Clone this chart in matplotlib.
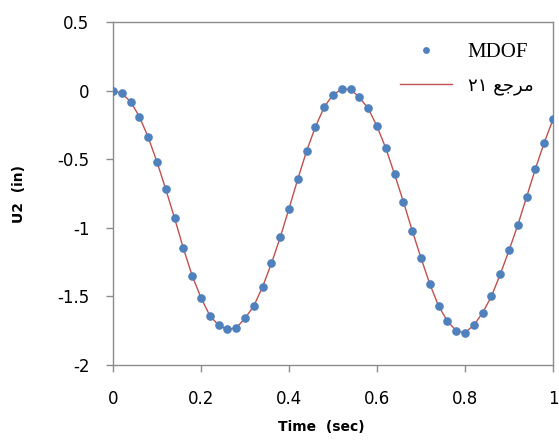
import matplotlib
matplotlib.use("Agg")
import matplotlib.pyplot as plt

# Data
time_s = [0.00, 0.02, 0.04, 0.06, 0.08, 0.10, 0.12, 0.14, 0.16, 0.18,
          0.20, 0.22, 0.24, 0.26, 0.28, 0.30, 0.32, 0.34, 0.36, 0.38,
          0.40, 0.42, 0.44, 0.46, 0.48, 0.50, 0.52, 0.54, 0.56, 0.58,
          0.60, 0.62, 0.64, 0.66, 0.68, 0.70, 0.72, 0.74, 0.76, 0.78,
          0.80, 0.82, 0.84, 0.86, 0.88, 0.90, 0.92, 0.94, 0.96, 0.98, 1.00]
mdof_u2 = [0.00, -0.02, -0.08, -0.19, -0.34, -0.52, -0.72, -0.93, -1.15, -1.35,
           -1.51, -1.64, -1.71, -1.74, -1.73, -1.66, -1.57, -1.43, -1.26, -1.07,
           -0.86, -0.645, -0.44, -0.265, -0.12, -0.03, 0.01, 0.01, -0.05, -0.13,
           -0.26, -0.42, -0.61, -0.81, -1.02, -1.22, -1.41, -1.57, -1.68, -1.75,
           -1.765, -1.71, -1.62, -1.50, -1.34, -1.165, -0.98, -0.775, -0.57, -0.38, -0.21]
ref_u2 = list(mdof_u2)

x_ticks = [0, 0.2, 0.4, 0.6, 0.8, 1]
x_tick_labels = ["0", "0.2", "0.4", "0.6", "0.8", "1"]
y_ticks = [-2, -1.5, -1, -0.5, 0, 0.5]
y_tick_labels = ["-2", "-1.5", "-1", "-0.5", "0", "0.5"]

label_mdof = "MDOF"
# "مرجع ۲۱" pre-shaped (visual order) since matplotlib has no bidi shaping
label_ref = "\u0662\u0661 \uFECA\uFE9F\uFEAE\uFEE3"

fig = plt.figure(figsize=(5.59, 4.48), dpi=100)
ax = fig.add_axes([113/559, 1 - 365/448, 440/559, (365 - 22)/448])

ax.plot(time_s, ref_u2, color="#C0504D", lw=1.0, label=label_ref, zorder=2)
ax.plot(time_s, mdof_u2, ls="none", marker="o", ms=5.2, color="#4F81BD",
        label=label_mdof, zorder=3)

ax.set_xlim(0, 1)
ax.set_ylim(-2, 0.5)

gray = "#8C8C8C"
for sp in ax.spines.values():
    sp.set_color(gray)
    sp.set_linewidth(1.0)
ax.tick_params(axis="x", direction="out", length=5, width=1, color=gray, pad=13,
               top=False, labelsize=12, labelfontfamily="DejaVu Sans")
ax.tick_params(axis="y", direction="out", length=5, width=1, color=gray, pad=12,
               right=False, labelsize=12, labelfontfamily="DejaVu Sans")
ax.set_xticks(x_ticks, x_tick_labels)
ax.set_yticks(y_ticks, y_tick_labels)

ax.set_xlabel("Time  (sec)", family="DejaVu Sans", fontsize=10, fontweight="bold")
ax.xaxis.set_label_coords(0.473, -0.16)
ax.set_ylabel("U2  (in)", family="DejaVu Sans", fontsize=10, fontweight="bold")
ax.yaxis.set_label_coords(-0.198, 0.5)

handles, labels = ax.get_legend_handles_labels()
leg = ax.legend(handles[::-1], labels[::-1], loc="upper right", frameon=False,
                bbox_to_anchor=(0.955, 0.94), borderpad=0, borderaxespad=0,
                handlelength=2.5, handletextpad=0.75, labelspacing=0.7,
                markerscale=0.75, fontsize=15)
leg.get_texts()[0].set_family(["Liberation Serif"])
leg.get_texts()[1].set_family(["DejaVu Sans"])
leg.get_texts()[1].set_fontsize(13)

fig.savefig("out.png", dpi=100, facecolor="white")
